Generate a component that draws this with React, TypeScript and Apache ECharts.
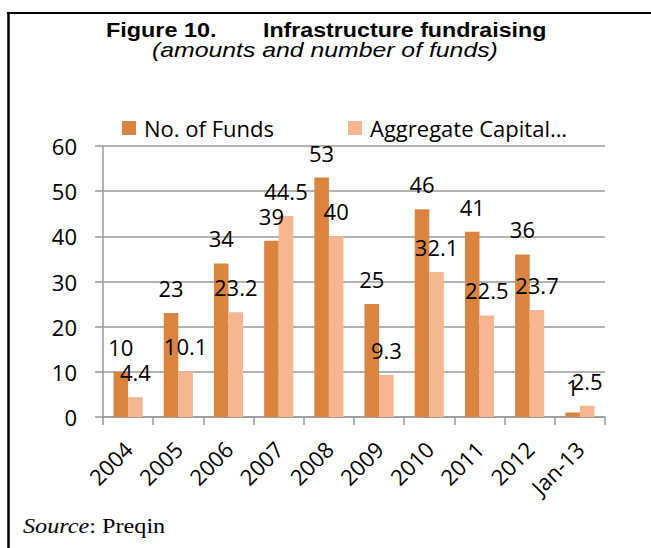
import React, { useEffect, useRef } from "react";
import * as echarts from "echarts";

const categories = ["2004", "2005", "2006", "2007", "2008", "2009", "2010", "2011", "2012", "Jan-13"];
const noOfFunds = [10, 23, 34, 39, 53, 25, 46, 41, 36, 1];
const aggregateCapital = [4.4, 10.1, 23.2, 44.5, 40, 9.3, 32.1, 22.5, 23.7, 2.5];
const seriesNames = ["No. of Funds", "Aggregate Capital…"];
const yTicks = { min: 0, max: 60, interval: 10 };

const DARK = "#DB843F";
const LIGHT = "#F8B591";
const GRID = "#9a9a9a";
const LABEL_FONT = "'Open Sans', 'Noto Sans', sans-serif";
const ARIAL = "'Liberation Sans', Arial, sans-serif";
const TIMES = "'Liberation Serif', 'Times New Roman', serif";

export default function App() {
  const ref = useRef<HTMLDivElement>(null);
  useEffect(() => {
    if (!ref.current) return;
    const chart = echarts.init(ref.current, undefined, { renderer: "svg" });
    const labelStyle = {
      show: true,
      position: "top" as const,
      distance: 14,
      color: "#000",
      fontFamily: LABEL_FONT,
      fontSize: 22,
    };
    chart.setOption({
      animation: false,
      backgroundColor: "#fff",
      graphic: [
        { type: "line", shape: { x1: 8.5, y1: 12, x2: 8.5, y2: 548 }, style: { stroke: "#000", lineWidth: 2.5 } },
        { type: "line", shape: { x1: 7, y1: 13, x2: 651, y2: 13 }, style: { stroke: "#000", lineWidth: 2 } },
        {
          type: "text", x: 106, y: 30, scaleX: 1.17,
          style: { text: "Figure 10.", fontFamily: ARIAL, fontWeight: "bold", fontSize: 20, fill: "#000", textAlign: "left", textVerticalAlign: "middle" },
        },
        {
          type: "text", x: 263, y: 30, scaleX: 1.16,
          style: { text: "Infrastructure fundraising", fontFamily: ARIAL, fontWeight: "bold", fontSize: 20, fill: "#000", textAlign: "left", textVerticalAlign: "middle" },
        },
        {
          type: "text", x: 152, y: 50, scaleX: 1.24,
          style: { text: "(amounts and number of funds)", fontFamily: ARIAL, fontStyle: "italic", fontSize: 20, fill: "#000", textAlign: "left", textVerticalAlign: "middle" },
        },
        {
          type: "text", x: 23, y: 525, scaleX: 1.1,
          style: {
            text: "{i|Source}: Preqin",
            fontFamily: TIMES,
            fontSize: 22, fill: "#000", textAlign: "left", textVerticalAlign: "middle",
            rich: { i: { fontStyle: "italic", fontFamily: TIMES, fontSize: 22 } },
          },
        },
      ],
      legend: [
        {
          data: [seriesNames[0]], left: 117, top: 112, icon: "rect", itemWidth: 14, itemHeight: 14,
          textStyle: { fontFamily: LABEL_FONT, fontSize: 22, color: "#000", padding: [0, 0, 0, 3] },
        },
        {
          data: [seriesNames[1]], left: 343, top: 112, icon: "rect", itemWidth: 14, itemHeight: 14,
          textStyle: { fontFamily: LABEL_FONT, fontSize: 22, color: "#000", padding: [0, 0, 0, 3] },
        },
      ],
      grid: { left: 103, right: 46, top: 146, bottom: 131, containLabel: false },
      xAxis: {
        type: "category",
        data: categories,
        boundaryGap: true,
        axisLine: { show: true, lineStyle: { color: GRID, width: 1.5 } },
        axisTick: { show: true, length: 8, lineStyle: { color: GRID, width: 1.5 } },
        axisLabel: {
          rotate: 45, interval: 0, margin: 28,
          color: "#000", fontFamily: LABEL_FONT, fontSize: 22,
        },
      },
      yAxis: {
        type: "value",
        min: yTicks.min, max: yTicks.max, interval: yTicks.interval,
        axisLine: { show: true, lineStyle: { color: GRID, width: 1.5 } },
        axisTick: { show: true, length: 8, lineStyle: { color: GRID, width: 1.5 } },
        splitLine: { show: true, lineStyle: { color: GRID, width: 1.5 } },
        axisLabel: { margin: 26, color: "#000", fontFamily: LABEL_FONT, fontSize: 22 },
      },
      series: [
        {
          name: seriesNames[0], type: "bar", data: noOfFunds,
          itemStyle: { color: DARK }, barGap: "0%", barCategoryGap: "42%", label: labelStyle,
        },
        {
          name: seriesNames[1], type: "bar", data: aggregateCapital,
          itemStyle: { color: LIGHT }, barGap: "0%", barCategoryGap: "42%", label: labelStyle,
        },
      ],
    });
    return () => chart.dispose();
  }, []);
  return <div ref={ref} style={{ position: "fixed", left: 0, top: 0, width: 651, height: 548 }} />;
}
